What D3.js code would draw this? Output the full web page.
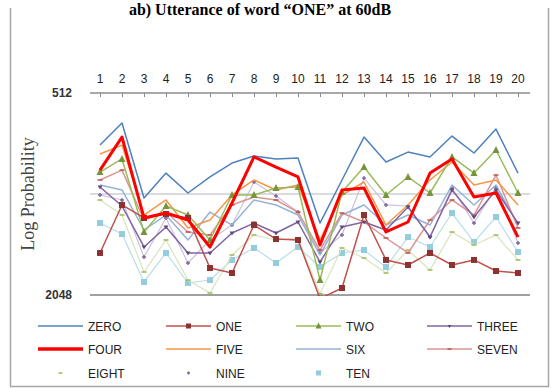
<!DOCTYPE html>
<html>
<head>
<meta charset="utf-8">
<script src="https://cdn.jsdelivr.net/npm/d3@7"></script>
<style>
  html, body { margin: 0; padding: 0; background: #fff; }
  svg { display: block; }
</style>
</head>
<body>
<svg id="chart" width="553" height="388"></svg>
<script>
// Frame index (1..20) along the top axis
const categories = d3.range(1, 21);

// Log-probability per frame for each word model
const ZERO  = [732, 629, 1053, 887, 1017, 911, 828, 789, 805, 800, 1250, 930, 693, 822, 768, 794, 688, 773, 656, 887];
const ONE   = [1535, 1104, 1207, 1175, 1207, 1702, 1761, 1267, 1395, 1404, 2100, 1952, 1183, 1610, 1667, 1535, 1667, 1610, 1737, 1761];
const TWO   = [881, 805, 1329, 1112, 1183, 1404, 1031, 1031, 983, 976, 1848, 1010, 851, 1031, 911, 1017, 794, 887, 757, 1017];
const THREE = [976, 1112, 1473, 1284, 1535, 1535, 1338, 1250, 1338, 1241, 1633, 1284, 1241, 1311, 1120, 1376, 996, 1199, 996, 1250];
const FOUR  = [869, 693, 1207, 1167, 1224, 1473, 1089, 794, 851, 911, 1453, 996, 983, 1329, 1241, 887, 805, 1045, 1017, 1376];
const FIVE  = [778, 732, 1183, 1067, 1293, 1224, 1031, 930, 996, 963, 1404, 1031, 943, 1267, 1104, 930, 822, 963, 930, 1104];
const SIX   = [963, 996, 1311, 1183, 1404, 1159, 1267, 1067, 1104, 1183, 1556, 1183, 1104, 1267, 1183, 1267, 963, 1104, 963, 1267];
const SEVEN = [930, 869, 1224, 1159, 1329, 1357, 1104, 1045, 1067, 1159, 1504, 1167, 1241, 1385, 1535, 1224, 1067, 1183, 899, 1293];
const EIGHT = [1067, 1183, 1749, 1404, 1848, 2020, 1556, 1357, 1404, 1385, 2030, 1483, 1589, 1761, 1504, 1725, 1329, 1453, 1357, 1610];
const NINE  = [1031, 1067, 1578, 1207, 1644, 1404, 1267, 943, 1038, 1159, 1535, 1357, 918, 1104, 1112, 1376, 983, 1250, 976, 1433];
const TEN   = [1250, 1348, 1873, 1535, 1886, 1848, 1610, 1483, 1644, 1473, 1690, 1535, 1504, 1690, 1376, 1473, 1167, 1424, 1199, 1525];

const seriesNames = ["ZERO", "ONE", "TWO", "THREE", "FOUR", "FIVE", "SIX", "SEVEN", "EIGHT", "NINE", "TEN"];
const seriesValues = [ZERO, ONE, TWO, THREE, FOUR, FIVE, SIX, SEVEN, EIGHT, NINE, TEN];
const yTickValues = [512, 2048];

// Visual style per series
const styles = {
  ZERO:  { line: "#4F81BD", width: 1.5, marker: null, showLine: true },
  ONE:   { line: "#C0504D", width: 1.5, marker: "square", mfill: "#8C3230", msize: 6, showLine: true },
  TWO:   { line: "#9BBB59", width: 1.5, marker: "triangle", mfill: "#77933C", msize: 6, showLine: true },
  THREE: { line: "#8064A2", width: 1.5, marker: "tridown", mfill: "#604A7B", msize: 5, showLine: true },
  FOUR:  { line: "#FF0000", width: 3,   marker: null, showLine: true },
  FIVE:  { line: "#F79646", width: 1.5, marker: null, showLine: true },
  SIX:   { line: "#95B3D7", width: 1.5, marker: null, showLine: true },
  SEVEN: { line: "#D99694", width: 1.5, marker: "dash", mfill: "#C0504D", msize: 5, showLine: true },
  EIGHT: { line: "#D7E4BD", width: 1.2, marker: "dash", mfill: "#9BBB59", msize: 5, showLine: false },
  NINE:  { line: "#CCC1DA", width: 1.2, marker: "plus", mfill: "#8064A2", msize: 4, showLine: false },
  TEN:   { line: "#B7DEE8", width: 1.2, marker: "square", mfill: "#93CDDD", msize: 6, showLine: false }
};

const svg = d3.select("#chart");

// outer frame (left, right, bottom)
svg.append("path")
  .attr("d", "M10.5,8 L10.5,386.5 L548.5,386.5 L548.5,8")
  .attr("fill", "none").attr("stroke", "#a6a6a6").attr("stroke-width", 1.5);

// title
svg.append("text")
  .attr("x", 260).attr("y", 15)
  .attr("text-anchor", "middle")
  .attr("font-family", "Liberation Serif, Times New Roman, serif")
  .attr("font-weight", "bold").attr("font-size", 16)
  .text("ab) Utterance of word \u201cONE\u201d at 60dB");

const x = d3.scalePoint().domain(categories).range([100, 518]);
const y = d3.scaleLog().base(2).domain([512, 2048]).range([93, 295]);

// middle gridline at 1024
svg.append("line")
  .attr("x1", 90).attr("x2", 530)
  .attr("y1", y(1024)).attr("y2", y(1024))
  .attr("stroke", "#b4b8c4").attr("stroke-width", 1.2);

// bottom boundary line at 2048
svg.append("line")
  .attr("x1", 90).attr("x2", 530)
  .attr("y1", y(2048)).attr("y2", y(2048))
  .attr("stroke", "#a0a0a0").attr("stroke-width", 2);

// category axis along the top, ticks pointing down
const xAxis = d3.axisBottom(x).tickSize(4).tickFormat("");
const gx = svg.append("g").attr("transform", `translate(0,${y(512)})`).call(xAxis);
gx.select(".domain").remove();
gx.selectAll(".tick line").attr("stroke", "#8c8c8c");
svg.append("line")
  .attr("x1", 90).attr("x2", 530)
  .attr("y1", y(512)).attr("y2", y(512))
  .attr("stroke", "#8c8c8c").attr("stroke-width", 1.5);

svg.append("g").selectAll("text").data(categories).join("text")
  .attr("x", d => x(d)).attr("y", 83)
  .attr("text-anchor", "middle")
  .attr("font-family", "Liberation Sans, Arial, sans-serif")
  .attr("font-size", 12).attr("fill", "#222")
  .text(d => d);

// value labels on the left
svg.append("g").selectAll("text").data(yTickValues).join("text")
  .attr("x", 72).attr("y", d => y(d) + 4)
  .attr("text-anchor", "end")
  .attr("font-family", "Liberation Sans, Arial, sans-serif")
  .attr("font-weight", "bold")
  .attr("font-size", 12).attr("fill", "#333")
  .text(d => d);

// vertical axis title
svg.append("text")
  .attr("transform", `translate(34,${y(1024)}) rotate(-90)`)
  .attr("text-anchor", "middle")
  .attr("font-family", "Liberation Serif, Times New Roman, serif")
  .attr("font-size", 18).attr("fill", "#444")
  .text("Log Probability");

// plot clip
svg.append("defs").append("clipPath").attr("id", "plotclip")
  .append("rect").attr("x", 86).attr("y", y(512)).attr("width", 448).attr("height", y(2048) - y(512) + 1);

function drawMarker(g, type, size, fill) {
  const s = size / 2;
  if (type === "square") {
    g.append("rect").attr("x", -s).attr("y", -s).attr("width", size).attr("height", size).attr("fill", fill);
  } else if (type === "triangle") {
    g.append("path").attr("d", `M0,${-s - 1}L${s + 0.5},${s}L${-s - 0.5},${s}Z`).attr("fill", fill);
  } else if (type === "tridown") {
    g.append("path").attr("d", `M${-s},${-s + 1}L${s},${-s + 1}L0,${s}Z`).attr("fill", fill);
  } else if (type === "dash") {
    g.append("line").attr("x1", -s).attr("x2", s).attr("stroke", fill).attr("stroke-width", 1.5);
  } else if (type === "plus") {
    g.append("path").attr("d", `M${-s},0H${s}M0,${-s}V${s}`).attr("stroke", fill).attr("stroke-width", 1.4);
  }
}

const plot = svg.append("g").attr("clip-path", "url(#plotclip)");
const line = d3.line().x((d, i) => x(categories[i])).y(d => y(d));

// draw order: background series first, FOUR on top
const order = ["TEN", "NINE", "EIGHT", "SIX", "SEVEN", "FIVE", "THREE", "TWO", "ONE", "ZERO", "FOUR"];
order.forEach(name => {
  const vals = seriesValues[seriesNames.indexOf(name)];
  const st = styles[name];
  plot.append("path").datum(vals)
    .attr("d", line)
    .attr("fill", "none")
    .attr("stroke", st.line)
    .attr("stroke-width", st.width)
    .attr("stroke-linejoin", "round");
  if (st.marker) {
    vals.forEach((v, i) => {
      const g = plot.append("g").attr("transform", `translate(${x(categories[i])},${y(v)})`);
      drawMarker(g, st.marker, st.msize, st.mfill);
    });
  }
});

// legend: 4 columns, 3 rows
const legCols = [38, 166, 296, 427];
const legRows = [326, 349, 373];
const legend = svg.append("g");
seriesNames.forEach((name, i) => {
  const cx = legCols[i % 4], cy = legRows[Math.floor(i / 4)];
  const st = styles[name];
  const g = legend.append("g").attr("transform", `translate(${cx},${cy})`);
  if (st.showLine) {
    g.append("line").attr("x1", 0).attr("x2", 45).attr("y1", 0).attr("y2", 0)
      .attr("stroke", st.line).attr("stroke-width", st.width === 3 ? 3.5 : 1.6);
  }
  if (st.marker) {
    const m = g.append("g").attr("transform", "translate(22.5,0)");
    drawMarker(m, st.marker, st.msize - 1, st.mfill);
  }
  g.append("text").attr("x", 50).attr("y", 4.5)
    .attr("font-family", "Liberation Sans, Arial, sans-serif")
    .attr("font-size", 12).attr("fill", "#222")
    .text(name);
});
</script>
</body>
</html>
